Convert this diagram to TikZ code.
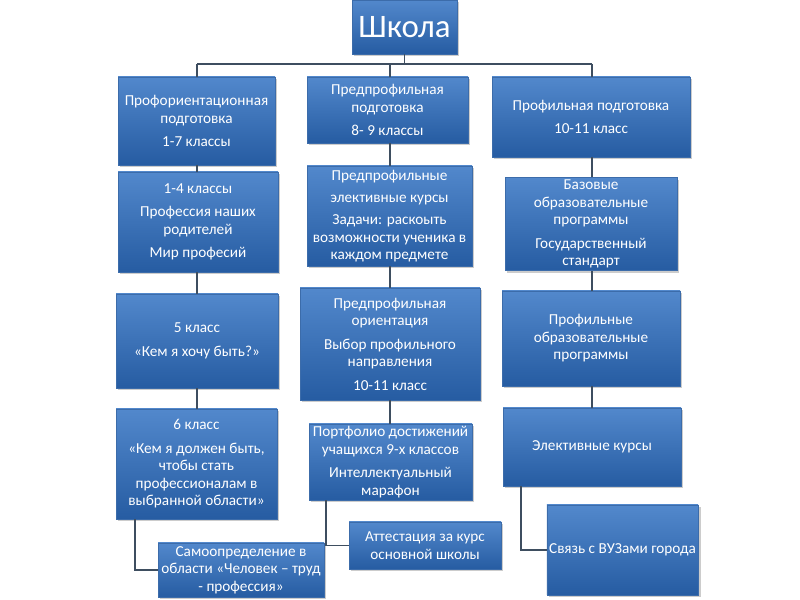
\documentclass[tikz,border=0pt]{standalone}
\usepackage{fontspec}
\setmainfont{Carlito}
\usetikzlibrary{positioning,shadows}

\definecolor{boxtop}{RGB}{82,136,204}
\definecolor{boxbot}{RGB}{38,92,162}
\definecolor{boxedge}{RGB}{60,108,170}
\definecolor{linkgray}{RGB}{62,78,96}

\begin{document}
\begin{tikzpicture}[x=0.03cm, y=-0.03cm,
    box/.style={rectangle, draw=boxedge, top color=boxtop, bottom color=boxbot, text=white, font=\fontsize{13}{15}\selectfont, align=center, inner sep=2pt, drop shadow={shadow xshift=2pt, shadow yshift=-2pt, opacity=0.4}},
    sz/.style 2 args={minimum width=#1*0.03cm, minimum height=#2*0.03cm},
    link/.style={draw=linkgray, line width=1.6pt}
]
\useasboundingbox (0,0) rectangle (800,600);

% Top box
\node[box, sz={105}{54}, font=\fontsize{28}{30}\selectfont] (school) at (404.5,27) {Школа};

% Bus coordinates
\coordinate (busA) at (197,64);
\coordinate (busB) at (390,64);
\coordinate (busC) at (592,64);

% Row 1
\node[box, sz={157}{88}] (A1) at (196.5,121) {Профориентационная\\подготовка\\[5pt]1-7 классы};
\node[box, sz={161}{66}] (B1) at (387.5,110) {Предпрофильная\\подготовка\\[5pt]8- 9 классы};
\node[box, sz={198}{80}] (C1) at (591,117) {Профильная подготовка\\[5pt]10-11 класс};

% Row 2
\node[box, sz={160}{100}] (A2) at (198,222) {1-4 классы\\[5pt]Профессия наших\\родителей\\[5pt]Мир професий};
\node[box, sz={165}{100}] (B2) at (389.5,216) {Предпрофильные\\[4pt]элективные курсы\\[4pt]Задачи: раскоыть\\возможности ученика в\\каждом предмете};
\node[box, sz={172}{88}] (C2) at (591,224) {Базовые\\образовательные\\программы\\[5pt]Государственный\\стандарт};

% Row 3
\node[box, sz={162}{94}] (A3) at (197,341) {5 класс\\[5pt]«Кем я хочу быть?»};
\node[box, sz={180}{112}] (B3) at (390,344) {Предпрофильная\\ориентация\\[5pt]Выбор профильного\\направления\\[5pt]10-11 класс};
\node[box, sz={178}{95}] (C3) at (591,338.5) {Профильные\\образовательные\\программы};

% Row 4
\node[box, sz={161}{110}] (A4) at (196.5,464) {6 класс\\[5pt]«Кем я должен быть,\\чтобы стать\\профессионалам в\\выбранной области»};
\node[box, sz={163}{76}] (B4) at (390.5,462) {Портфолио достижений\\учащихся 9-х классов\\[5pt]Интеллектуальный\\марафон};
\node[box, sz={178}{78}] (C4) at (592,447) {Элективные курсы};

% Row 5
\node[box, sz={166}{54}] (A5) at (241,570) {Самоопределение в\\области «Человек – труд\\- профессия»};
\node[box, sz={152}{47}] (B5) at (425,545.5) {Аттестация за курс\\основной школы};
\node[box, sz={151}{90}] (C5) at (622.5,550) {Связь с ВУЗами города};

% Tree connections
\draw[link] (school) -- (school |- busB);
\draw[link] (busA) -- (busC);
\draw[link] (busA) -- (busA |- A1.north);
\draw[link] (busB) -- (busB |- B1.north);
\draw[link] (busC) -- (busC |- C1.north);
\foreach \u/\v/\c in {A1/A2/busA, A2/A3/busA, A3/A4/busA, B1/B2/busB, B2/B3/busB, B3/B4/busB, C1/C2/busC, C2/C3/busC, C3/C4/busC}
  \draw[link] (\u.south -| \c) -- (\v.north -| \c);

% Elbow connections
\draw[link] ([xshift=0.57cm]A4.south west) |- (A5.west);
\draw[link] ([xshift=0.51cm]B4.south west) |- (B5.west);
\draw[link] ([xshift=0.54cm]C4.south west) |- (C5.west);

\end{tikzpicture}
\end{document}
